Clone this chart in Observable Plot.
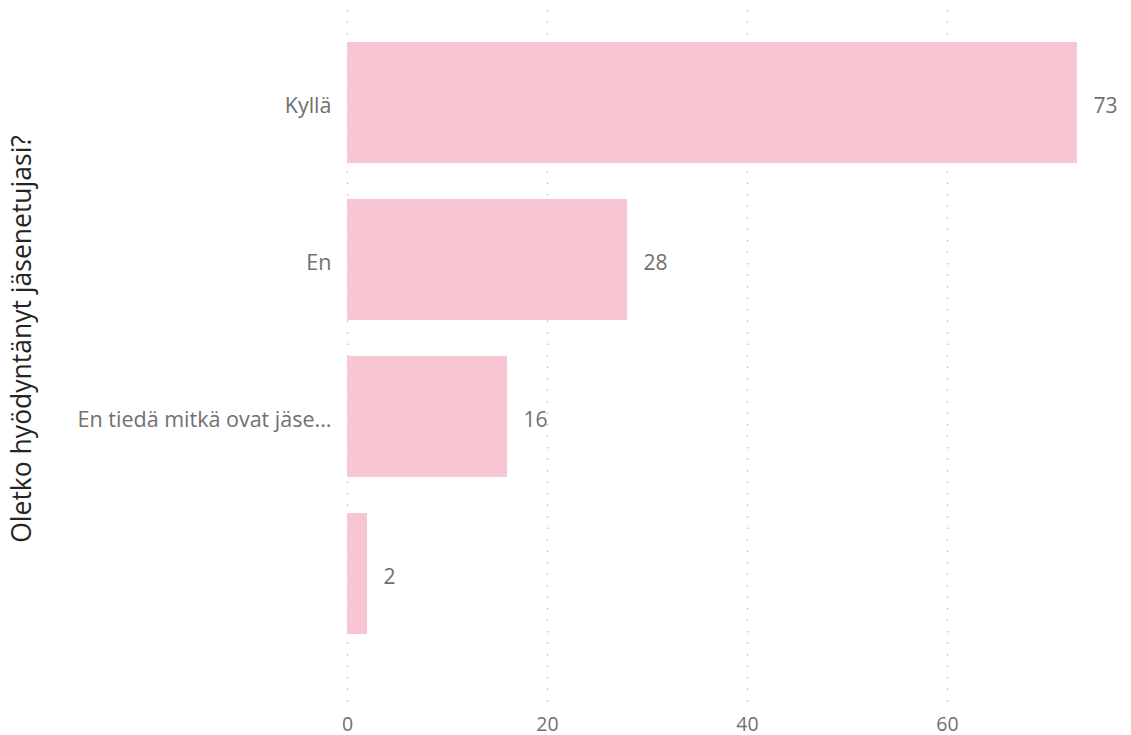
<!DOCTYPE html>
<html>
<head>
<meta charset="utf-8">
<script src="https://cdn.jsdelivr.net/npm/d3@7"></script>
<script src="https://cdn.jsdelivr.net/npm/@observablehq/plot@0.6"></script>
<style>
  body { margin: 0; background: #fff; }
  #chart { width: 1131px; height: 735px; }
</style>
</head>
<body>
<div id="chart"></div>
<script>
const categories = ["Kyllä", "En", "En tiedä mitkä ovat jäse...", ""];
const values = [73, 28, 16, 2];
const xTicks = [0, 20, 40, 60];
const axisTitle = "Oletko hyödyntänyt jäsenetujasi?";

const data = categories.map((c, i) => ({category: c, value: values[i]}));

const chart = Plot.plot({
  width: 1131,
  height: 735,
  marginLeft: 347,
  marginRight: 4,
  marginTop: 10,
  marginBottom: 32,
  style: {fontFamily: "'Open Sans', sans-serif", background: "#fff", overflow: "visible"},
  x: {domain: [0, 78], ticks: xTicks},
  y: {domain: categories, paddingInner: 0.232, paddingOuter: 0.31, align: 0.32},
  marks: [
    Plot.gridX(xTicks, {stroke: "#b8b8b8", strokeOpacity: 1, strokeWidth: 1.2, strokeDasharray: "1.5,10"}),
    Plot.barX(data, {x: "value", y: "category", fill: "#F7C6D2"}),
    Plot.text(data, {x: "value", y: "category", text: d => String(d.value), dx: 16, dy: 3, textAnchor: "start", fontSize: 21, fill: "#707070"}),
    Plot.axisX(xTicks, {tickSize: 0, tickPadding: 13.5, fontSize: 19.5, color: "#707070", label: null}),
    Plot.axisY({tickSize: 0, tickPadding: 16, dy: 3, fontSize: 21.5, color: "#707070", label: null}),
    Plot.text([axisTitle], {frameAnchor: "left", textAnchor: "middle", dx: -325, dy: -18, rotate: -90, fontSize: 26.5, fill: "#252423", fontFamily: "'Open Sans', sans-serif"})
  ]
});
document.getElementById("chart").appendChild(chart);
</script>
</body>
</html>
